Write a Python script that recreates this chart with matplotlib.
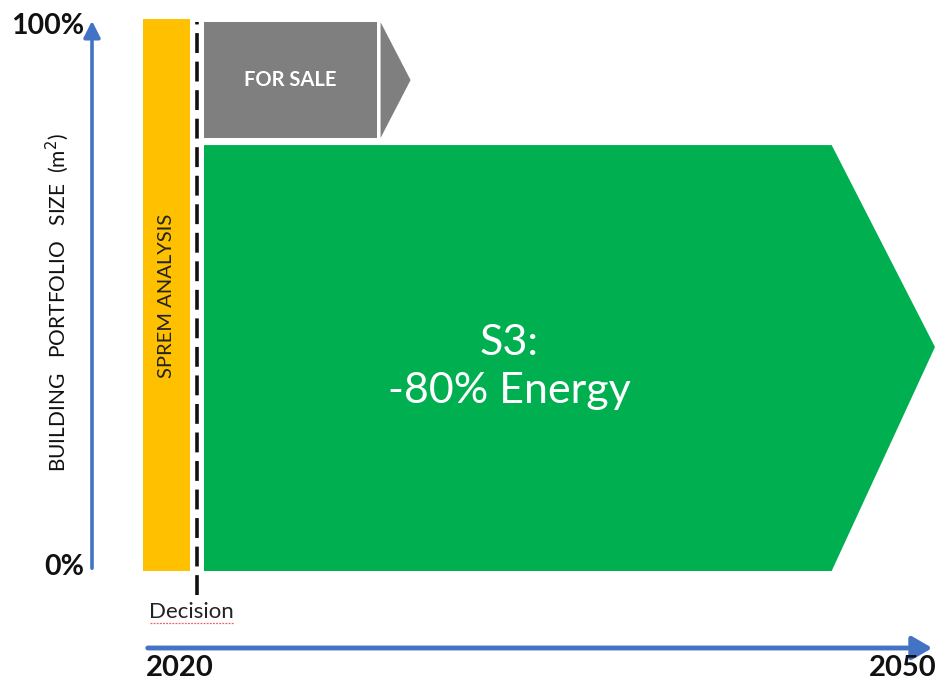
import matplotlib
matplotlib.use('agg')

import matplotlib.pyplot as plt
from matplotlib.patches import Polygon, Rectangle, FancyArrowPatch

plt.rcParams['font.family'] = ['Lato', 'DejaVu Sans']

# portfolio shares in % of building floor area
green_share = 77.3
sale_bottom = 78.6
sale_top = 99.6
# timeline in years
start_year = 2020
end_year = 2050
sale_end = 2027.3
green_end = 2045.8
sprem_span = (2017.8, 2019.7)
y_labels = ['0%', '100%']
x_labels = ['2020', '2050']
y_title = 'BUILDING   PORTFOLIO   SIZE  (m$^2$)'
blue = '#4472C4'
green = '#00B050'
orange = '#FFC000'
grey = '#7F7F7F'

fig = plt.figure(figsize=(9.51, 6.83), dpi=100)
ax = fig.add_axes([0, 0, 1, 1])
# 24.6 px per year, 5.51 px per percent
ax.set_xlim(start_year - 197 / 24.6, start_year + 754 / 24.6)
ax.set_ylim(-112 / 5.51, 100 + 20 / 5.51)
ax.axis('off')

px = 1 / 24.6
py = 1 / 5.51

# sprem analysis bar
ax.add_patch(Rectangle((sprem_span[0], 0), sprem_span[1] - sprem_span[0], 100.2,
                       color=orange, lw=0))
ax.text(sum(sprem_span) / 2, 100 - 276 * py, 'SPREM ANALYSIS', rotation=90,
        ha='center', va='center', fontsize=14.5, color='#222222')

# decision line
ax.plot([start_year, start_year], [-24 * py, 100 - 2 * py], color='#111111', lw=2.6,
        dashes=(5.5, 2.4))
ax.text(start_year - 48 * px, -41 * py, 'Decision', ha='left', va='center', fontsize=16,
        color='#222222')
ax.plot([start_year - 47 * px, start_year + 37 * px], [-52 * py, -52 * py],
        color='#f06060', lw=0.9, ls=(0, (1.5, 1)))

# for sale block
x0 = start_year + 7 * px
ax.add_patch(Rectangle((x0, sale_bottom), sale_end - x0, sale_top - sale_bottom,
                       color=grey, lw=0))
tri = [(sale_end + 4 * px, sale_bottom), (sale_end + 4 * px, sale_top),
       (sale_end + 34 * px, (sale_bottom + sale_top) / 2)]
ax.add_patch(Polygon(tri, closed=True, color=grey, lw=0))
ax.text((x0 + sale_end) / 2, (sale_bottom + sale_top) / 2, 'FOR SALE', ha='center',
        va='center', fontsize=14.5, fontweight='bold', color='white')

# S3 block
poly = [(x0, 0), (green_end, 0), (end_year, green_share / 2 + 2),
        (green_end, green_share), (x0, green_share)]
ax.add_patch(Polygon(poly, closed=True, color=green, lw=0))
ax.text(2032.7, 37.0, 'S3:\n-80% Energy', ha='center', va='center', fontsize=31,
        color='white', linespacing=1.3)

# y axis arrow
ax.add_patch(FancyArrowPatch((start_year - 105 * px, 0), (start_year - 105 * px, 100 + 2 * py),
                             arrowstyle='-|>,head_length=5,head_width=2.5', color=blue,
                             lw=2.6, mutation_scale=2))
ax.text(start_year - 113 * px, 100 - 6 * py, y_labels[1], ha='right', va='center',
        fontsize=20.5, fontweight='bold', color='#111111')
ax.text(start_year - 113 * px, 4 * py, y_labels[0], ha='right', va='center',
        fontsize=20.5, fontweight='bold', color='#111111')
ax.text(start_year - 140 * px, 100 - 283 * py, y_title, rotation=90,
        ha='center', va='center', fontsize=15, color='#111111')

# x axis arrow
ax.add_patch(FancyArrowPatch((start_year - 52 * px, -77 * py), (end_year, -77 * py),
                             arrowstyle='-|>,head_length=6,head_width=3.5', color=blue,
                             lw=3.5, mutation_scale=2))
ax.text(start_year - 51 * px, -97 * py, x_labels[0], ha='left', va='center', fontsize=21,
        fontweight='bold', color='#111111')
ax.text(end_year + 2 * px, -97 * py, x_labels[1], ha='right', va='center', fontsize=21,
        fontweight='bold', color='#111111')

fig.savefig('out.png', dpi=100)
